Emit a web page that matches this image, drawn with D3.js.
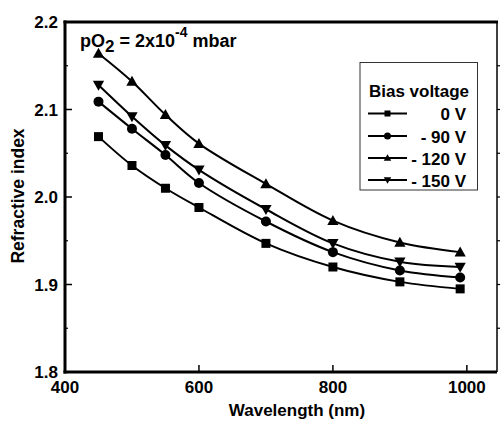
<!DOCTYPE html>
<html><head><meta charset="utf-8">
<script src="https://cdn.jsdelivr.net/npm/d3@7"></script>
<style>body{margin:0;background:#fff;} svg{display:block;} text{font-family:"Liberation Sans",Arial,sans-serif;font-weight:bold;fill:#000;}</style>
</head><body><svg id="c" width="500" height="421"></svg>
<script>
const wavelengths = [450, 500, 550, 600, 700, 800, 900, 990];
const seriesNames = ["0 V", "- 90 V", "- 120 V", "- 150 V"];
const symbols = ["square", "circle", "triangleUp", "triangleDown"];
const n0V   = [2.069, 2.036, 2.010, 1.988, 1.947, 1.920, 1.903, 1.895];
const n90V  = [2.109, 2.078, 2.048, 2.016, 1.972, 1.937, 1.916, 1.908];
const n120V = [2.164, 2.132, 2.094, 2.061, 2.015, 1.973, 1.948, 1.937];
const n150V = [2.128, 2.092, 2.059, 2.031, 1.986, 1.947, 1.926, 1.920];
const xTicks = [400, 600, 800, 1000];
const yTicks = [1.8, 1.9, 2.0, 2.1, 2.2];
const yMinor = [1.85, 1.95, 2.05, 2.15];
const seriesValues = [n0V, n90V, n120V, n150V];

const svg = d3.select("#c");
const L = 65, R = 497, T = 22, B = 372;
const x = d3.scaleLinear().domain([400, 1045]).range([L, R]);
const y = d3.scaleLinear().domain([1.8, 2.2]).range([B, T]);

function drawSymbol(g, type, cx, cy, s) {
  if (type === "square") {
    g.append("rect").attr("x", cx - s/2).attr("y", cy - s/2).attr("width", s).attr("height", s).attr("fill", "#000");
  } else if (type === "circle") {
    g.append("circle").attr("cx", cx).attr("cy", cy).attr("r", s/2 + 0.5).attr("fill", "#000");
  } else if (type === "triangleUp") {
    const h = s * 1.05, w = s * 1.25;
    g.append("path").attr("d", `M${cx},${cy - h*0.6}L${cx + w/2},${cy + h*0.45}L${cx - w/2},${cy + h*0.45}Z`).attr("fill", "#000");
  } else {
    const h = s * 1.05, w = s * 1.25;
    g.append("path").attr("d", `M${cx},${cy + h*0.6}L${cx + w/2},${cy - h*0.45}L${cx - w/2},${cy - h*0.45}Z`).attr("fill", "#000");
  }
}

// lines
const line = d3.line().x((d, i) => x(wavelengths[i])).y(d => y(d)).curve(d3.curveCatmullRom.alpha(0.5));
const gl = svg.append("g");
seriesValues.forEach((vals, si) => {
  gl.append("path").attr("d", line(vals)).attr("fill", "none").attr("stroke", "#000").attr("stroke-width", 2);
  vals.forEach((v, i) => drawSymbol(gl, symbols[si], x(wavelengths[i]), y(v), 9));
});

// axes frame
const ax = svg.append("g");
ax.append("line").attr("x1", L).attr("x2", L).attr("y1", T - 1.5).attr("y2", B + 1.5).attr("stroke", "#000").attr("stroke-width", 3);
ax.append("line").attr("x1", L - 1.5).attr("x2", R).attr("y1", B).attr("y2", B).attr("stroke", "#000").attr("stroke-width", 3);
ax.append("line").attr("x1", L - 1.5).attr("x2", R + 1).attr("y1", T).attr("y2", T).attr("stroke", "#000").attr("stroke-width", 3);
ax.append("line").attr("x1", R).attr("x2", R).attr("y1", T).attr("y2", B).attr("stroke", "#000").attr("stroke-width", 1.5);

// y ticks
yTicks.forEach(t => {
  if (t > 1.8 && t < 2.2) ax.append("line").attr("x1", L).attr("x2", L + 7).attr("y1", y(t)).attr("y2", y(t)).attr("stroke", "#000").attr("stroke-width", 1.5);
  if (t > 1.8 && t < 2.2) ax.append("line").attr("x1", R).attr("x2", R + 3).attr("y1", y(t)).attr("y2", y(t)).attr("stroke", "#000").attr("stroke-width", 1.2);
  ax.append("text").attr("x", L - 7).attr("y", y(t) + 6).attr("text-anchor", "end").attr("font-size", 17).text(d3.format(".1f")(t));
});
yMinor.forEach(t => {
  ax.append("line").attr("x1", L).attr("x2", L + 3).attr("y1", y(t)).attr("y2", y(t)).attr("stroke", "#000").attr("stroke-width", 1.2);
  ax.append("line").attr("x1", R).attr("x2", R + 3).attr("y1", y(t)).attr("y2", y(t)).attr("stroke", "#000").attr("stroke-width", 1.2);
});
// x ticks
xTicks.forEach(t => {
  if (t > 400) ax.append("line").attr("x1", x(t)).attr("x2", x(t)).attr("y1", B).attr("y2", B - 7).attr("stroke", "#000").attr("stroke-width", 1.5);
  ax.append("text").attr("x", x(t)).attr("y", 393).attr("text-anchor", "middle").attr("font-size", 17).text(t);
});

// axis titles
svg.append("text").attr("x", 297).attr("y", 416).attr("text-anchor", "middle").attr("font-size", 17).text("Wavelength (nm)");
svg.append("text").attr("transform", "translate(24,196) rotate(-90)").attr("text-anchor", "middle").attr("font-size", 17.5).text("Refractive index");

// annotation
const ann = svg.append("text").attr("x", 80).attr("y", 47).attr("font-size", 18);
ann.append("tspan").text("pO");
ann.append("tspan").attr("dy", 5).attr("font-size", 17).text("2");
ann.append("tspan").attr("dy", -5).text(" = 2x10");
ann.append("tspan").attr("dy", -10).attr("font-size", 14).text("-4");
ann.append("tspan").attr("dy", 10).text(" mbar");

// legend
const lg = svg.append("g");
lg.append("rect").attr("x", 360).attr("y", 62.5).attr("width", 117.5).attr("height", 127.5).attr("fill", "#fff").attr("stroke", "#333").attr("stroke-width", 1);
lg.append("text").attr("x", 419).attr("y", 97).attr("text-anchor", "middle").attr("font-size", 17).text("Bias voltage");
const ly = [113.5, 136, 158, 180];
seriesNames.forEach((name, i) => {
  lg.append("line").attr("x1", 368).attr("x2", 407).attr("y1", ly[i]).attr("y2", ly[i]).attr("stroke", "#000").attr("stroke-width", 2);
  drawSymbol(lg, symbols[i], 387.5, ly[i], 6);
  lg.append("text").attr("x", 466).attr("y", ly[i] + 6.5).attr("text-anchor", "end").attr("font-size", 17).text(name);
});
</script></body></html>
